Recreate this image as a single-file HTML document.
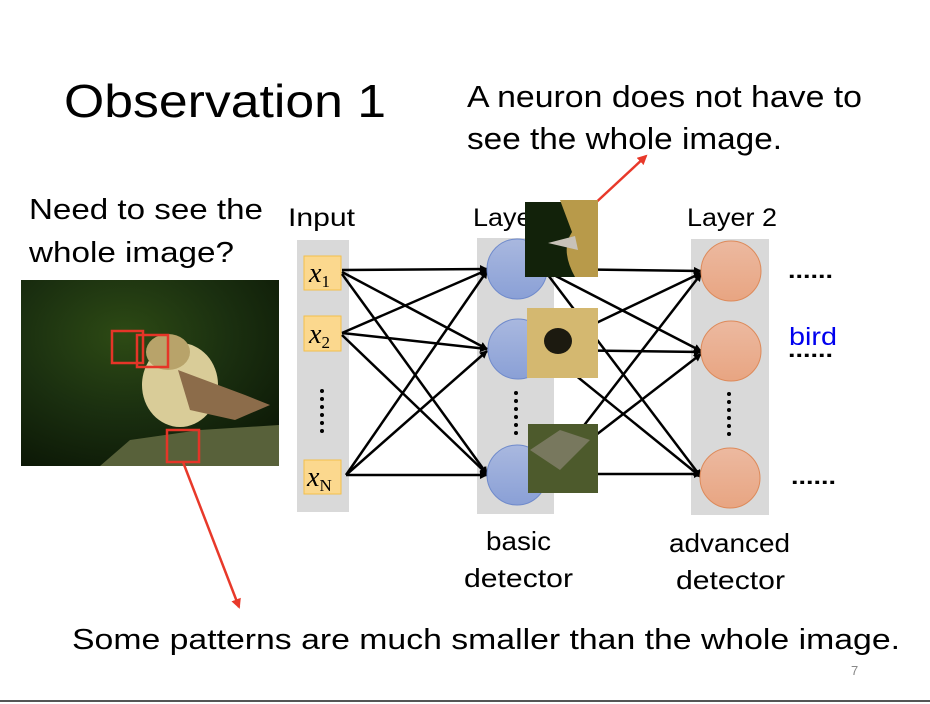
<!DOCTYPE html>
<html><head><meta charset="utf-8"><style>
body{margin:0;background:#fff;}
svg{display:block;font-family:"Liberation Sans",sans-serif;}
</style></head><body>
<svg width="930" height="704" viewBox="0 0 930 704" xmlns="http://www.w3.org/2000/svg">
<defs>
<marker id="ah" markerWidth="8" markerHeight="8" refX="7" refY="4" orient="auto" markerUnits="userSpaceOnUse"><path d="M0,0 L8,4 L0,8 z" fill="#000"/></marker>
<marker id="rh" markerWidth="10" markerHeight="10" refX="8" refY="5" orient="auto" markerUnits="userSpaceOnUse"><path d="M0,0 L10,5 L0,10 z" fill="#e8392a"/></marker>
<radialGradient id="bg" cx="0.4" cy="0.3" r="0.8"><stop offset="0" stop-color="#2d4a14"/><stop offset="0.5" stop-color="#1b3010"/><stop offset="1" stop-color="#0c1806"/></radialGradient>
<linearGradient id="blue" x1="0" y1="0" x2="0" y2="1"><stop offset="0" stop-color="#a9b8df"/><stop offset="1" stop-color="#8aa0d6"/></linearGradient>
<linearGradient id="org" x1="0" y1="0" x2="0" y2="1"><stop offset="0" stop-color="#ecb9a0"/><stop offset="1" stop-color="#e8a582"/></linearGradient>
</defs>
<g lengthAdjust="spacingAndGlyphs">
<text x="64" y="117" font-size="46" textLength="322" lengthAdjust="spacingAndGlyphs">Observation 1</text>
<text x="467" y="107" font-size="31" textLength="395" lengthAdjust="spacingAndGlyphs">A neuron does not have to</text>
<text x="467" y="149" font-size="31" textLength="315" lengthAdjust="spacingAndGlyphs">see the whole image.</text>
<text x="29" y="219" font-size="29" textLength="234" lengthAdjust="spacingAndGlyphs">Need to see the</text>
<text x="29" y="262" font-size="29" textLength="205" lengthAdjust="spacingAndGlyphs">whole image?</text>
</g>
<!-- photo -->
<rect x="21" y="280" width="258" height="186" fill="url(#bg)"/>
<ellipse cx="180" cy="385" rx="38" ry="42" fill="#d9cc98"/>
<ellipse cx="168" cy="352" rx="22" ry="18" fill="#b8a36a"/>
<path d="M178,370 L245,395 L270,405 L235,420 L190,410z" fill="#8c6c4a"/>
<path d="M100,466 L130,440 L200,430 L279,425 L279,466z" fill="#58613a"/>
<rect x="112" y="331" width="31" height="32" fill="none" stroke="#e53528" stroke-width="2.5"/>
<rect x="137" y="335" width="31" height="32" fill="none" stroke="#e53528" stroke-width="2.5"/>
<rect x="167" y="430" width="32" height="32" fill="none" stroke="#e53528" stroke-width="2.5"/>
<line x1="183" y1="462" x2="239" y2="607" stroke="#e8392a" stroke-width="2.5" marker-end="url(#rh)"/>
<line x1="590" y1="208" x2="646" y2="156" stroke="#e8392a" stroke-width="2.5" marker-end="url(#rh)"/>
<!-- columns -->
<text x="288" y="226" font-size="25" textLength="67" lengthAdjust="spacingAndGlyphs">Input</text>
<text x="473" y="226" font-size="25" textLength="90" lengthAdjust="spacingAndGlyphs">Layer 1</text>
<text x="687" y="226" font-size="25" textLength="90" lengthAdjust="spacingAndGlyphs">Layer 2</text>
<rect x="297" y="240" width="52" height="272" fill="#d9d9d9"/>
<rect x="477" y="238" width="77" height="276" fill="#d9d9d9"/>
<rect x="691" y="239" width="78" height="276" fill="#d9d9d9"/>
<g fill="#fbd88e" stroke="#f3c04c" stroke-width="1">
<rect x="304" y="256" width="37" height="34"/><rect x="304" y="316" width="37" height="35"/><rect x="304" y="460" width="37" height="34"/></g>
<g font-family="Liberation Serif,serif" font-style="italic" font-size="28">
<text x="309" y="282">x<tspan font-style="normal" font-size="17" dy="5">1</tspan></text>
<text x="309" y="343">x<tspan font-style="normal" font-size="17" dy="5">2</tspan></text>
<text x="307" y="486">x<tspan font-style="normal" font-size="17" dy="5">N</tspan></text></g>
<g fill="#000"><circle cx="322" cy="391" r="2"/><circle cx="322" cy="399" r="2"/><circle cx="322" cy="407" r="2"/><circle cx="322" cy="415" r="2"/><circle cx="322" cy="423" r="2"/><circle cx="322" cy="431" r="2"/>
<circle cx="516" cy="393" r="2"/><circle cx="516" cy="401" r="2"/><circle cx="516" cy="409" r="2"/><circle cx="516" cy="417" r="2"/><circle cx="516" cy="425" r="2"/><circle cx="516" cy="433" r="2"/>
<circle cx="729" cy="394" r="2"/><circle cx="729" cy="402" r="2"/><circle cx="729" cy="410" r="2"/><circle cx="729" cy="418" r="2"/><circle cx="729" cy="426" r="2"/><circle cx="729" cy="434" r="2"/></g>
<g stroke="#000" stroke-width="2.5" marker-end="url(#ah)">
<line x1="342" y1="270" x2="487" y2="269"/><line x1="342" y1="272" x2="487" y2="349"/><line x1="342" y1="274" x2="487" y2="474"/>
<line x1="342" y1="333" x2="487" y2="270"/><line x1="342" y1="333" x2="487" y2="349"/><line x1="342" y1="335" x2="487" y2="474"/>
<line x1="346" y1="475" x2="487" y2="271"/><line x1="346" y1="475" x2="487" y2="351"/><line x1="346" y1="475" x2="487" y2="475"/>
<line x1="548" y1="269" x2="701" y2="271"/><line x1="548" y1="272" x2="701" y2="351"/><line x1="548" y1="275" x2="701" y2="477"/>
<line x1="548" y1="346" x2="701" y2="273"/><line x1="548" y1="350" x2="701" y2="352"/><line x1="548" y1="353" x2="701" y2="477"/>
<line x1="548" y1="472" x2="701" y2="274"/><line x1="548" y1="472" x2="701" y2="354"/><line x1="548" y1="474" x2="701" y2="474"/>
</g>
<g fill="url(#blue)" stroke="#6f8acb" stroke-width="1">
<circle cx="517" cy="269" r="30"/><circle cx="518" cy="349" r="30"/><circle cx="517" cy="475" r="30"/></g>
<g fill="url(#org)" stroke="#dd8a5a" stroke-width="1">
<circle cx="731" cy="271" r="30"/><circle cx="731" cy="351" r="30"/><circle cx="730" cy="478" r="30"/></g>
<!-- patches -->
<rect x="525" y="202" width="73" height="75" fill="#12220a"/>
<path d="M560,200 L598,200 L598,277 L575,277 Q560,250 572,232z" fill="#b89a4a"/>
<path d="M548,243 L575,236 L578,250z" fill="#c8c2b8"/>
<rect x="527" y="308" width="71" height="70" fill="#d4b870"/>
<ellipse cx="558" cy="341" rx="14" ry="13" fill="#1c1a10"/>
<rect x="528" y="424" width="70" height="69" fill="#4d5a2c"/>
<path d="M530,450 L560,430 L590,440 L560,470z" fill="#8a8474" opacity="0.7"/>
<text x="789" y="345" font-size="25" fill="#0000ee" textLength="48" lengthAdjust="spacingAndGlyphs">bird</text>
<g font-size="22" font-weight="bold"><text x="788" y="278" textLength="45" lengthAdjust="spacingAndGlyphs">......</text><text x="788" y="357" textLength="45" lengthAdjust="spacingAndGlyphs">......</text><text x="791" y="484" textLength="45" lengthAdjust="spacingAndGlyphs">......</text></g>
<text x="486" y="550" font-size="26" textLength="65" lengthAdjust="spacingAndGlyphs">basic</text>
<text x="464" y="587" font-size="26" textLength="109" lengthAdjust="spacingAndGlyphs">detector</text>
<text x="669" y="552" font-size="26" textLength="121" lengthAdjust="spacingAndGlyphs">advanced</text>
<text x="676" y="589" font-size="26" textLength="109" lengthAdjust="spacingAndGlyphs">detector</text>
<text x="72" y="649" font-size="29" textLength="828" lengthAdjust="spacingAndGlyphs">Some patterns are much smaller than the whole image.</text>
<text x="851" y="675" font-size="13" fill="#888">7</text>
<line x1="0" y1="701" x2="930" y2="701" stroke="#555" stroke-width="2"/>
</svg>
</body></html>
